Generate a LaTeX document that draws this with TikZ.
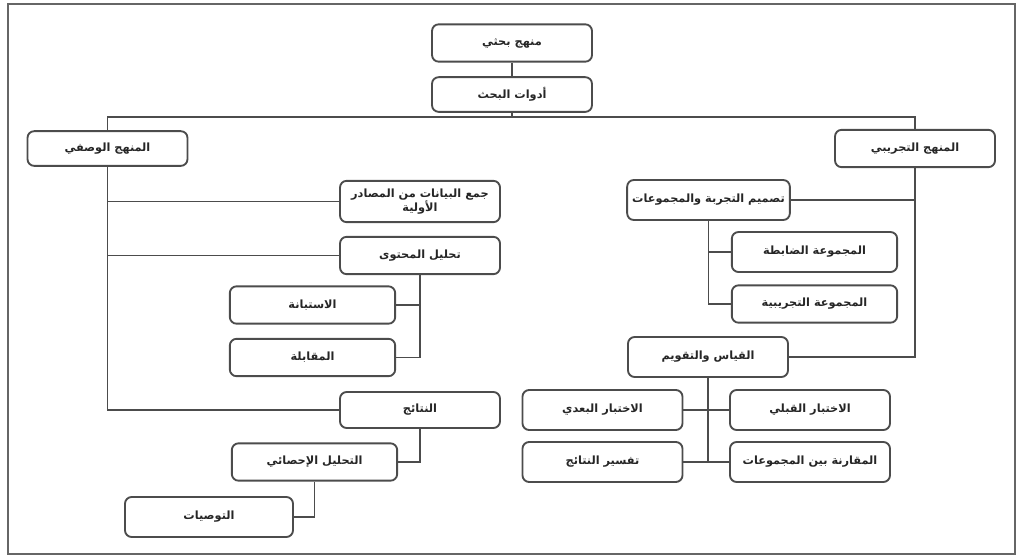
\documentclass[tikz,border=0pt]{standalone}
\usepackage{fontspec}
\newfontfamily\arabicfont[Script=Arabic]{DejaVu Sans}
\TeXXeTstate=1
\newcommand\ar[1]{\beginR #1\endR}
\begin{document}
\begin{tikzpicture}[x=0.75pt,y=-0.75pt,
  box/.style={draw=black!70, line width=1.4pt, rounded corners=5pt, fill=white,
    minimum width=120pt, minimum height=28pt, inner sep=2pt,
    font=\arabicfont\fontsize{8.5}{10}\selectfont\bfseries, text=black!85, align=center},
  wbox/.style={box, minimum width=124pt},
  conn/.style={draw=black!70, line width=1.4pt}]
\useasboundingbox (0,0) rectangle (1018,558);
\draw[draw=black!60, line width=1.2pt] (8,4) rectangle (1015,554);

% top
\node[box] (top) at (512,43) {\ar{منهج بحثي}};
\node[box, minimum height=26pt] (tools) at (512,94.5) {\ar{أدوات البحث}};
\node[box, minimum height=26pt] (L1) at (107.5,148.5) {\ar{المنهج الوصفي}};
\node[box] (R1) at (915,148.5) {\ar{المنهج التجريبي}};

% left branch
\node[box, minimum height=31pt] (A) at (420,201.5) {\ar{جمع البيانات من المصادر}\\\ar{الأولية}};
\node[box] (B) at (420,255.5) {\ar{تحليل المحتوى}};
\node[wbox] (B1) at (312.5,305) {\ar{الاستبانة}};
\node[wbox] (B2) at (312.5,357.5) {\ar{المقابلة}};
\node[box, minimum height=27pt] (C) at (420,410) {\ar{النتائج}};
\node[wbox] (C1) at (314.5,462) {\ar{التحليل الإحصائي}};
\node[box, minimum width=126pt, minimum height=30pt] (C2) at (209,517) {\ar{التوصيات}};

% right branch
\node[box, minimum width=122pt, minimum height=30pt] (D) at (708.5,200) {\ar{تصميم التجربة والمجموعات}};
\node[wbox, minimum height=30pt] (D1) at (814.5,252) {\ar{المجموعة الضابطة}};
\node[wbox] (D2) at (814.5,304) {\ar{المجموعة التجريبية}};
\node[box, minimum height=30pt] (E) at (708,357) {\ar{القياس والتقويم}};
\node[box, minimum height=30pt] (E1) at (602.5,410) {\ar{الاختبار البعدي}};
\node[box, minimum height=30pt] (E2) at (810,410) {\ar{الاختبار القبلي}};
\node[box, minimum height=30pt] (E3) at (602.5,462) {\ar{تفسير النتائج}};
\node[box, minimum height=30pt] (E4) at (810,462) {\ar{المقارنة بين المجموعات}};

% connectors
\coordinate (bus) at (512,117);
\draw[conn] (top.south) -- (tools.north);
\draw[conn] (tools.south) -- (bus);
\draw[conn] (L1.north) |- (bus) -| (R1.north);

\draw[conn] (L1.south) |- (C.west);
\draw[conn] (L1.south |- A.west) -- (A.west);
\draw[conn] (L1.south |- B.west) -- (B.west);
\draw[conn] (B.south) |- (B2.east);
\draw[conn] (B.south |- B1.east) -- (B1.east);
\draw[conn] (C.south) |- (C1.east);
\draw[conn] (C1.south) |- (C2.east);

\draw[conn] (R1.south) |- (E.east);
\draw[conn] (R1.south |- D.east) -- (D.east);
\draw[conn] (D.south) |- (D2.west);
\draw[conn] (D.south |- D1.west) -- (D1.west);
\draw[conn] (E.south) -- (E.south |- E3.east);
\draw[conn] (E1.east) -- (E2.west);
\draw[conn] (E3.east) -- (E4.west);
\end{tikzpicture}
\end{document}
